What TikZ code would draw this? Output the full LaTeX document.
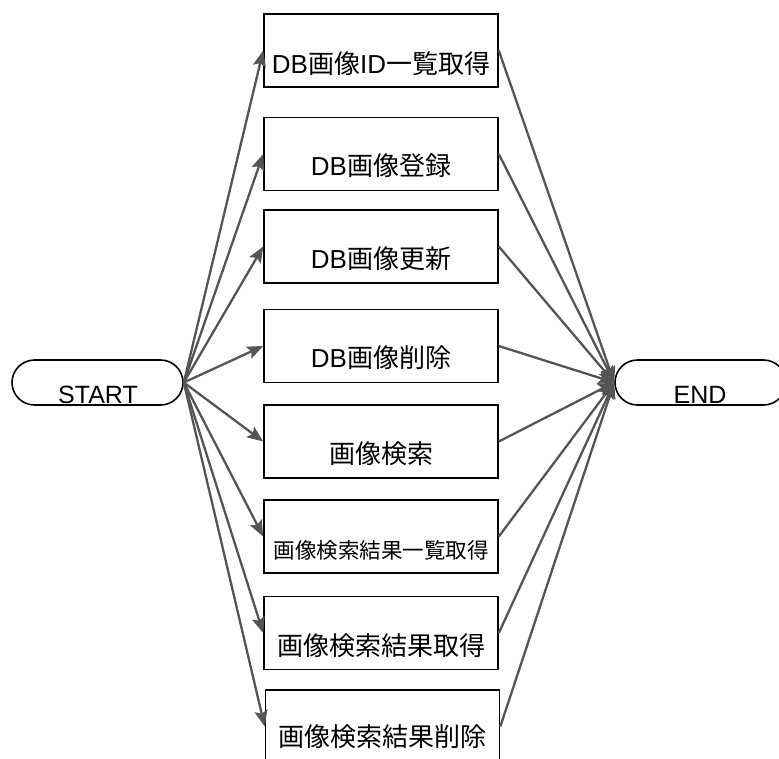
\documentclass[tikz,border=0pt]{standalone}
\usepackage{fontspec}
\newfontfamily\lat{Liberation Sans}
\newfontfamily\cjk{Noto Sans CJK JP}
\usetikzlibrary{arrows.meta,calc}
\definecolor{conn}{HTML}{555555}
\begin{document}
\begin{tikzpicture}[x=1pt,y=-1pt,
  box/.style={draw=black,line width=1.6pt,minimum width=234pt,minimum height=73pt,inner sep=0pt},
  term/.style={draw=black,line width=1.6pt,rounded corners=22.5pt,minimum width=171pt,minimum height=45pt,inner sep=0pt},
  lbl/.style={font=\fontsize{26}{30}\selectfont\cjk,inner sep=0pt,anchor=base},
  slbl/.style={font=\fontsize{21.5}{26}\selectfont\cjk,inner sep=0pt,anchor=base},
  tlbl/.style={font=\fontsize{25}{30}\selectfont\lat,inner sep=0pt,anchor=base},
  arr/.style={draw=conn,line width=2.3pt,-{Stealth[length=16pt,width=13pt,inset=3pt]}}]
\useasboundingbox (0,0) rectangle (779,758);

% terminals
\node[term] (start) at (97.5,382.5) {};
\node[tlbl] (startt) at (98,403) {START};
\node[term] (end) at (700.5,382.5) {};
\node[tlbl] (endt) at (700,403) {END};

% boxes
\node[box] (b1) at (381,50.5) {};
\node[box] (b2) at (381,154) {};
\node[box] (b3) at (381,246.5) {};
\node[box] (b4) at (381,346) {};
\node[box] (b5) at (381,441.5) {};
\node[box] (b6) at (381,536.5) {};
\node[box] (b7) at (381,633) {};
\node[box] (b8) at (382.5,726.5) {};

% labels
\node[lbl] (t1) at ($(b1.center)+(0,22.5)$) {{\lat DB}画像{\lat ID}一覧取得};
\node[lbl] (t2) at ($(b2.center)+(0,21.5)$) {{\lat DB}画像登録};
\node[lbl] (t3) at ($(b3.center)+(0,21.5)$) {{\lat DB}画像更新};
\node[lbl] (t4) at ($(b4.center)+(0,21.5)$) {{\lat DB}画像削除};
\node[lbl] (t5) at ($(b5.center)+(0,21.5)$) {画像検索};
\node[slbl] (t6) at ($(b6.center)+(0,22)$) {画像検索結果一覧取得};
\node[lbl] (t7) at ($(b7.center)+(0,22)$) {画像検索結果取得};
\node[lbl] (t8) at ($(b8.center)+(0,19.5)$) {画像検索結果削除};

% connectors
\foreach \b in {b1,b2,b3,b4,b5,b6,b7,b8} {
  \draw[arr] (start.east) -- (\b.west);
  \draw[arr] (\b.east) -- (end.west);
}
\end{tikzpicture}
\end{document}
